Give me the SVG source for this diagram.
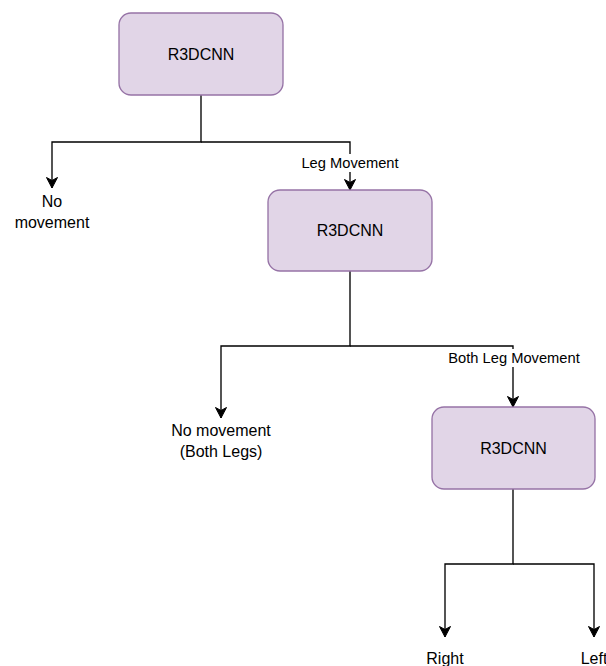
<svg xmlns="http://www.w3.org/2000/svg" width="606" height="666" viewBox="0 0 606 666">
  <style>
    .node rect { fill: #e1d5e7; stroke: #9673a6; stroke-width: 1.33; }
    text { font-family: "Liberation Sans", Arial, sans-serif; fill: #000; text-anchor: middle; dominant-baseline: central; }
    .t { font-size: 16px; }
    .lbl { font-size: 14.7px; }
    .edge { fill: none; stroke: #000; stroke-width: 1.33; }
    .lblbg { fill: #fff; }
  </style>
  <defs>
    <marker id="arrow" markerUnits="userSpaceOnUse" markerWidth="14" markerHeight="14" viewBox="-12 -7 14 14" refX="0" refY="0" orient="auto">
      <path d="M0 0 L-10.5 -5.5 L-7.5 0 L-10.5 5.5 Z" fill="#000" stroke="#000" stroke-width="1"/>
    </marker>
  </defs>

  <!-- connectors -->
  <g id="edges">
    <path class="edge" d="M201 95 V142 H52 V188" marker-end="url(#arrow)"/>
    <path class="edge" d="M201 142 H350 V190" marker-end="url(#arrow)"/>
    <path class="edge" d="M350 271 V346 H221 V418" marker-end="url(#arrow)"/>
    <path class="edge" d="M350 346 H513 V407" marker-end="url(#arrow)"/>
    <path class="edge" d="M513 489 V564 H445 V637" marker-end="url(#arrow)"/>
    <path class="edge" d="M513 564 H594 V637" marker-end="url(#arrow)"/>
    <g id="edge-labels">
      <rect class="lblbg" x="301" y="154" width="98" height="18"/>
      <text class="lbl" x="350" y="163">Leg Movement</text>
      <rect class="lblbg" x="447" y="349" width="134" height="18"/>
      <text class="lbl" x="514" y="358">Both Leg Movement</text>
    </g>
  </g>

  <!-- classifier nodes -->
  <g id="r3dcnn-1" class="node">
    <rect x="119" y="13" width="164" height="82" rx="12" ry="12"/>
    <text class="t" x="201" y="54">R3DCNN</text>
  </g>
  <g id="r3dcnn-2" class="node">
    <rect x="268" y="190" width="164" height="81" rx="12" ry="12"/>
    <text class="t" x="350" y="230.5">R3DCNN</text>
  </g>
  <g id="r3dcnn-3" class="node">
    <rect x="432" y="407" width="163" height="82" rx="12" ry="12"/>
    <text class="t" x="513.5" y="448">R3DCNN</text>
  </g>

  <!-- outcome nodes -->
  <g id="no-movement">
    <text class="t" x="52" y="201">No</text>
    <text class="t" x="52" y="222">movement</text>
  </g>
  <g id="no-movement-both">
    <text class="t" x="221" y="430">No movement</text>
    <text class="t" x="221" y="451">(Both Legs)</text>
  </g>
  <g id="right">
    <text class="t" x="445" y="658">Right</text>
  </g>
  <g id="left">
    <text class="t" x="594" y="658">Left</text>
  </g>
</svg>
